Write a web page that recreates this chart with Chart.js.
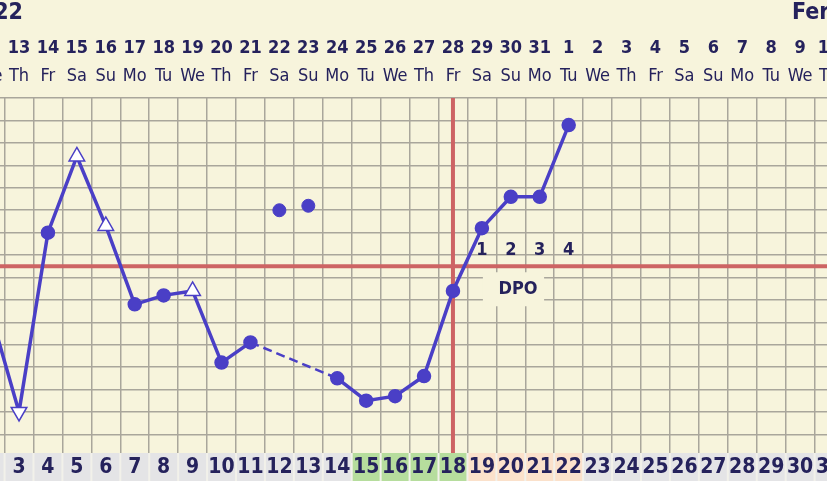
<!DOCTYPE html>
<html>
<head>
<meta charset="utf-8">
<script src="https://cdn.jsdelivr.net/npm/chart.js@4.4.1/dist/chart.umd.min.js"></script>
<style>
  html, body { margin: 0; padding: 0; background: #f7f4dc; }
  #wrap { width: 827px; height: 481px; }
</style>
</head>
<body>
<div id="wrap"><canvas id="bbtChart" width="827" height="481"></canvas></div>
<script>
// cycle days 2..31 (Jan 12 - Feb 10, 2022)
const cycleDays = [2, 3, 4, 5, 6, 7, 8, 9, 10, 11, 12, 13, 14, 15, 16, 17, 18, 19, 20, 21, 22, 23, 24, 25, 26, 27, 28, 29, 30, 31];
const dateLabels = ["12", "13", "14", "15", "16", "17", "18", "19", "20", "21", "22", "23", "24", "25", "26", "27", "28", "29", "30", "31", "1", "2", "3", "4", "5", "6", "7", "8", "9", "10"];
const weekdays = ["We", "Th", "Fr", "Sa", "Su", "Mo", "Tu", "We", "Th", "Fr", "Sa", "Su", "Mo", "Tu", "We", "Th", "Fr", "Sa", "Su", "Mo", "Tu", "We", "Th", "Fr", "Sa", "Su", "Mo", "Tu", "We", "Th"];

// temps for cycle days 2..22 (null = left out of the line)
const temps = [97.55, 97.10, 97.90, 98.24, 97.93, 97.58, 97.62, 97.64, 97.32, 97.41, null, null, 97.25, 97.15, 97.17, 97.26, 97.64, 97.92, 98.06, 98.06, 98.38];
const discardedDays = [12, 13];
const discardedTemps = [98.00, 98.02];
const triangleUpDays = [5, 6, 9];
const triangleDownDays = [3];

const fertileDays = [15, 16, 17, 18];
const dpoDays = [19, 20, 21, 22];
const dpoLabels = ["1", "2", "3", "4"];
const coverline = 97.75;
const ovulationDay = 18;
const monthLeft = "2022";
const monthRight = "Fer";

const CREAM = "#f7f4dc";
const GRID = "#a9a69b";
const BLUE = "#4a3fc6";
const RED = "#cd6464";
const NAVY = "#25225c";

const tempPoints = temps.map((t, i) => ({ x: cycleDays[i], y: t }));
const pointStyles = temps.map((_, i) => {
  const d = cycleDays[i];
  return triangleUpDays.includes(d) || triangleDownDays.includes(d) ? "triangle" : "circle";
});
const pointRotations = temps.map((_, i) => (triangleDownDays.includes(cycleDays[i]) ? 180 : 0));
const pointRadii = pointStyles.map((s) => (s === "triangle" ? 9 : 6.5));
const pointFills = pointStyles.map((s) => (s === "triangle" ? "#ffffff" : BLUE));

// segment that bridges skipped (null) temps gets dashed
const isGap = (c) => temps[c.p0DataIndex] === null;

const chartDecor = {
  id: "chartDecor",
  beforeDraw(chart) {
    const { ctx, width, height } = chart;
    ctx.save();
    ctx.fillStyle = CREAM;
    ctx.fillRect(0, 0, width, height);
    ctx.restore();
  },
  beforeDatasetsDraw(chart) {
    const { ctx, chartArea, scales: { x, y } } = chart;
    ctx.save();
    ctx.strokeStyle = RED;
    ctx.lineWidth = 4;
    const cy = y.getPixelForValue(coverline);
    ctx.beginPath();
    ctx.moveTo(chartArea.left, cy);
    ctx.lineTo(chartArea.right, cy);
    ctx.stroke();
    const ox = x.getPixelForValue(ovulationDay);
    ctx.beginPath();
    ctx.moveTo(ox, chartArea.top);
    ctx.lineTo(ox, chartArea.bottom);
    ctx.stroke();

    // DPO box + numbers
    const bx0 = x.getPixelForValue(dpoDays[0]) + 1;
    const bx1 = x.getPixelForValue(dpoDays[2] + 0.15);
    ctx.fillStyle = CREAM;
    ctx.fillRect(bx0, cy + 6, bx1 - bx0, 34);
    ctx.fillStyle = NAVY;
    ctx.textAlign = "center";
    ctx.textBaseline = "middle";
    ctx.font = "bold 18px 'DejaVu Sans Condensed', 'DejaVu Sans'";
    ctx.fillText("DPO", x.getPixelForValue(dpoDays[1] + 0.25), cy + 23);
    dpoDays.forEach((d, i) => {
      ctx.fillText(dpoLabels[i], x.getPixelForValue(d), cy - 16);
    });
    ctx.restore();
  },
  afterDraw(chart) {
    const { ctx, chartArea, height, width, scales: { x } } = chart;
    ctx.save();
    ctx.fillStyle = NAVY;
    ctx.textBaseline = "middle";

    // month / year
    ctx.font = "bold 23px 'DejaVu Sans Condensed', 'DejaVu Sans'";
    ctx.textAlign = "right";
    ctx.fillText(monthLeft, 23, 13);
    ctx.textAlign = "left";
    ctx.fillText(monthRight, 792, 13);

    ctx.textAlign = "center";
    cycleDays.forEach((d, i) => {
      const cx = x.getPixelForValue(d);
      ctx.font = "bold 18px 'DejaVu Sans Condensed', 'DejaVu Sans'";
      ctx.fillText(dateLabels[i], cx, 48);
      ctx.font = "18px 'DejaVu Sans Condensed', 'DejaVu Sans'";
      ctx.fillText(weekdays[i], cx, 76);
    });

    // cycle day band
    const top = chartArea.bottom;
    const w = x.getPixelForValue(1) - x.getPixelForValue(0);
    ctx.fillStyle = "#f2f1ea";
    ctx.fillRect(0, top, width, height - top);
    cycleDays.forEach((d) => {
      const cx = x.getPixelForValue(d);
      let fill = "#e4e4e6";
      if (fertileDays.includes(d)) fill = "#b6dd9d";
      else if (dpoDays.includes(d)) fill = "#fbe1cb";
      ctx.fillStyle = fill;
      ctx.fillRect(cx - w / 2 + 1, top, w - 2, height - top);
      ctx.fillStyle = NAVY;
      ctx.font = "bold 21px 'DejaVu Sans Condensed', 'DejaVu Sans'";
      ctx.fillText(String(d), cx, top + 15);
    });
    ctx.restore();
  },
};

new Chart(document.getElementById("bbtChart"), {
  type: "line",
  data: {
    datasets: [
      {
        data: tempPoints,
        spanGaps: true,
        borderColor: BLUE,
        borderWidth: 3.5,
        tension: 0,
        segment: {
          borderDash: (c) => (isGap(c) ? [9, 5] : undefined),
          borderWidth: (c) => (isGap(c) ? 2.5 : undefined),
        },
        pointStyle: pointStyles,
        pointRotation: pointRotations,
        pointRadius: pointRadii,
        pointBackgroundColor: pointFills,
        pointBorderColor: BLUE,
        pointBorderWidth: 1.5,
      },
      {
        data: discardedDays.map((d, i) => ({ x: d, y: discardedTemps[i] })),
        showLine: false,
        pointStyle: "circle",
        pointRadius: 6.5,
        pointBackgroundColor: BLUE,
        pointBorderColor: BLUE,
        pointBorderWidth: 1,
      },
    ],
  },
  options: {
    responsive: false,
    animation: false,
    layout: { autoPadding: false, padding: { top: 98, bottom: 28, left: 0, right: 0 } },
    scales: {
      x: {
        type: "linear",
        min: 2.343,
        max: 30.929,
        afterBuildTicks: (scale) => {
          scale.ticks = [];
          for (let v = 2.5; v <= 30.5; v += 1) scale.ticks.push({ value: v });
        },
        ticks: { display: false },
        grid: { color: GRID, lineWidth: 1.5, drawTicks: false },
        border: { display: false },
      },
      y: {
        min: 96.9165,
        max: 98.501,
        afterBuildTicks: (scale) => {
          scale.ticks = [];
          for (let i = 0; i <= 15; i++) scale.ticks.push({ value: 97 + i * 0.1 });
        },
        ticks: { display: false },
        grid: { color: GRID, lineWidth: 1.5, drawTicks: false },
        border: { display: false },
      },
    },
    plugins: {
      legend: { display: false },
      tooltip: { enabled: false },
    },
  },
  plugins: [chartDecor],
});
</script>
</body>
</html>
